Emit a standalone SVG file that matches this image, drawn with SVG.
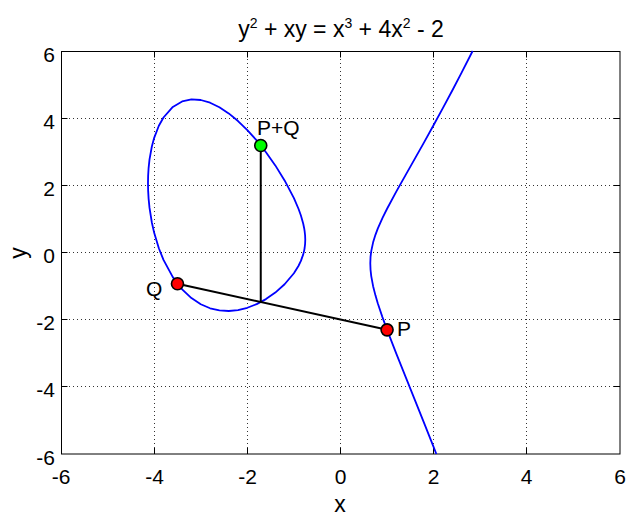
<svg xmlns="http://www.w3.org/2000/svg" width="636" height="518" viewBox="0 0 636 518">
<style>
text{font-family:"Liberation Sans",Arial,sans-serif;fill:#000}
.tick{font-size:21px}
.lab{font-size:23px}
.plab{font-size:21px}
.grid{stroke:#333;stroke-width:1;stroke-dasharray:1 3;fill:none}
.axis{stroke:#000;stroke-width:1;fill:none}
.curve{stroke:#0000ff;stroke-width:1.8;fill:none;stroke-linejoin:round}
.conn{stroke:#000;stroke-width:2;fill:none}
.pt{stroke:#000;stroke-width:1.6}
</style>
<rect width="636" height="518" fill="#fff"/>
<g id="grid">
<path class="grid" d="M154.5,51V454M247.5,51V454M340.5,51V454M433.5,51V454M526.5,51V454M61,118.5H620M61,185.5H620M61,252.5H620M61,319.5H620M61,386.5H620"/>
</g>
<g id="axes">
<rect class="axis" x="61.5" y="51.5" width="558.5" height="402.5"/>
<path class="axis" d="M154.5,454v-6M247.5,454v-6M340.5,454v-6M433.5,454v-6M526.5,454v-6M154.5,51.5v6M247.5,51.5v6M340.5,51.5v6M433.5,51.5v6M526.5,51.5v6M61.5,118.5h6M61.5,185.5h6M61.5,252.5h6M61.5,319.5h6M61.5,386.5h6M620,118.5h-6M620,185.5h-6M620,252.5h-6M620,319.5h-6M620,386.5h-6"/>
</g>
<g id="xticks" class="tick" text-anchor="middle">
<text x="61" y="483.5">-6</text>
<text x="154.5" y="483.5">-4</text>
<text x="247.5" y="483.5">-2</text>
<text x="340.5" y="483.5">0</text>
<text x="433.5" y="483.5">2</text>
<text x="526.5" y="483.5">4</text>
<text x="620" y="483.5">6</text>
</g>
<g id="yticks" class="tick" text-anchor="end">
<text x="55" y="62">6</text>
<text x="55" y="129">4</text>
<text x="55" y="196">2</text>
<text x="55" y="263">0</text>
<text x="55" y="330">-2</text>
<text x="55" y="397">-4</text>
<text x="55" y="464.5">-6</text>
</g>
<text class="lab" x="340" y="512" text-anchor="middle">x</text>
<text class="lab" transform="translate(26,253) rotate(-90)" text-anchor="middle">y</text>
<text class="lab" x="341" y="37" text-anchor="middle">y<tspan dy="-9" font-size="14">2</tspan><tspan dy="9"> + xy = x</tspan><tspan dy="-9" font-size="14">3</tspan><tspan dy="9"> + 4x</tspan><tspan dy="-9" font-size="14">2</tspan><tspan dy="9"> - 2</tspan></text>
<g id="curve">
<path class="curve" d="M147.99,183.11 L148.14,175.6 148.59,168.06 149.52,159.41 151.85,146.50 154.18,137.85 158.84,125.80 163.50,117.48 172.81,106.94 182.13,101.47 191.44,99.43 200.76,100.00 210.08,102.71 219.39,107.25 228.71,113.41 238.02,121.05 247.34,130.07 256.66,140.45 265.97,152.19 275.29,165.40 284.60,180.42 293.92,198.16 298.58,209.02 300.91,215.54 303.24,223.75 304.17,228.21 304.63,231.12 305.10,235.52 305.26,239.80 305.10,243.96 304.63,248.02 304.17,250.60 303.24,254.38 300.91,260.92 298.58,265.75 293.92,273.26 284.60,284.29 275.29,292.58 265.97,299.09 256.66,304.11 247.34,307.77 238.02,310.08 228.71,311.00 219.39,310.45 210.08,308.27 200.76,304.26 191.44,298.12 182.13,289.35 172.81,277.17 163.50,259.92 158.84,248.24 154.18,232.83 151.85,222.50 149.52,207.91 148.59,198.59 148.14,190.6 Z"/>
<path class="curve" d="M436.35,453.98 L433.66,447.12 424.34,423.61 415.03,400.33 405.71,377.16 396.40,353.85 387.08,329.83 382.42,317.10 377.76,303.20 375.44,295.36 373.11,286.16 371.24,276.09 370.54,269.74 370.29,263.24 370.54,256.92 371.24,251.07 373.11,242.35 375.44,234.82 377.76,228.66 382.42,218.13 387.08,208.75 396.40,191.44 405.71,174.85 415.03,158.40 424.34,141.84 433.66,125.04 442.98,107.93 452.29,90.47 461.61,72.64 472.63,51.02"/>
</g>
<g id="connectors">
<line class="conn" x1="177.47" y1="283.76" x2="387.08" y2="329.83"/>
<line class="conn" x1="260.75" y1="302.06" x2="260.75" y2="145.45"/>
</g>
<g id="Q">
<circle class="pt" cx="177.47" cy="283.76" r="6" fill="#ff0000"/>
<text class="plab" x="146" y="295.5">Q</text>
</g>
<g id="P">
<circle class="pt" cx="387.08" cy="329.83" r="6" fill="#ff0000"/>
<text class="plab" x="397" y="335.5">P</text>
</g>
<g id="PQ">
<circle class="pt" cx="260.75" cy="145.45" r="6" fill="#00ff00"/>
<text class="plab" x="257" y="134.5">P+Q</text>
</g>
</svg>
